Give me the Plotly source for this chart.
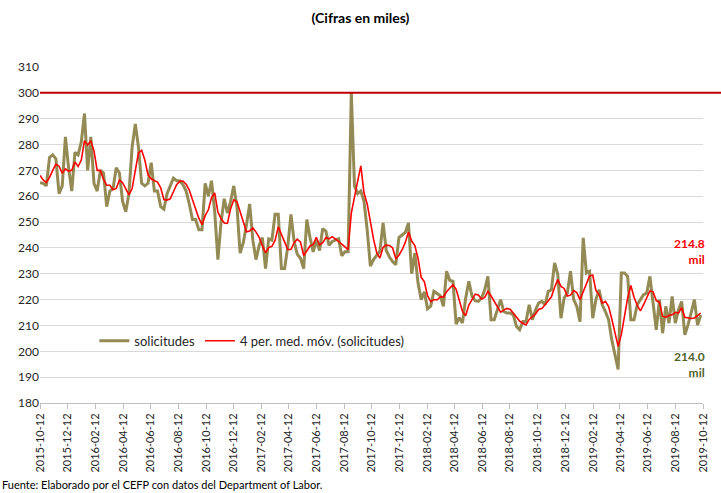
import pandas as pd
import plotly.graph_objects as go

# ---------------- data (miles de solicitudes, semanal) ----------------
start_date = "2015-10-12"

solicitudes = [
    265.2, 265, 264, 275, 276, 274.5, 261, 264, 283, 271,
    262, 277, 276, 281, 292, 270, 283, 265, 262, 270,
    269, 256, 262, 263, 271, 269, 258, 254, 261, 279,
    288, 279, 265, 264, 265, 273, 262, 262, 256, 255,
    261, 264, 267, 266, 266, 264.5, 262, 257, 251, 251,
    247, 247, 265, 260, 266, 254, 235.5, 250, 259, 253.5,
    258, 264, 256, 238, 242, 249, 257, 243, 235.5, 241,
    244, 232, 243.5, 243, 253, 253, 232, 232, 240.5, 253,
    242.5, 237.5, 236, 232, 251, 244, 238.5, 243, 239, 247.5,
    246.5, 241, 242.5, 243, 243.5, 237, 238.5, 238.5, 300, 264,
    261, 262, 258, 247, 233, 235.5, 237, 238.7, 249.7, 239,
    236.5, 234.7, 233.5, 244, 245, 246, 249.7, 230, 238, 226.5,
    220, 223, 216.5, 217.5, 223.2, 222.2, 221.5, 217.4, 231, 227.4,
    227.1, 210.5, 213, 211, 220.5, 227.1, 221.3, 219.6, 219.3, 220.6,
    223.8, 229, 212.2, 212.2, 216.1, 220, 215.4, 214.8, 214.8, 214.1,
    209.6, 208.3, 211.5, 211.5, 218, 212.2, 216.1, 218.7, 219.3, 218,
    223.2, 223.8, 234.2, 229.7, 212.8, 220.6, 222.5, 231, 220, 217.4,
    211.5, 243.9, 230.3, 231, 212.8, 220, 223.8, 218, 215.4, 212.2,
    204.4, 198, 193, 230.3, 230.3, 229, 212.2, 212.2, 218, 220,
    221.9, 222.5, 229, 218.7, 208.3, 220, 207, 217.4, 210.9, 221.2,
    210.9, 216.1, 219.3, 206.4, 210.2, 215, 220, 210.2, 214,
]

# three weeks before the window (needed for the 4-week moving average)
prev_weeks = [272, 268, 267]

tick_labels = [
    "2015-10-12", "2015-12-12", "2016-02-12", "2016-04-12", "2016-06-12",
    "2016-08-12", "2016-10-12", "2016-12-12", "2017-02-12", "2017-04-12",
    "2017-06-12", "2017-08-12", "2017-10-12", "2017-12-12", "2018-02-12",
    "2018-04-12", "2018-06-12", "2018-08-12", "2018-10-12", "2018-12-12",
    "2019-02-12", "2019-04-12", "2019-06-12", "2019-08-12", "2019-10-12",
]

umbral = 300
last_ma_label = "214.8"
last_value_label = "214.0"

# ---------------- derived ----------------
fechas = pd.date_range(start_date, periods=len(solicitudes), freq="7D")
media_movil = (
    pd.Series(prev_weeks + solicitudes).rolling(4).mean().iloc[len(prev_weeks):].tolist()
)

OLIVE = "#948A54"
RED = "#FF0000"
DARKRED = "#C00000"
FONT = "Lato"

fig = go.Figure()
fig.add_trace(go.Scatter(
    x=fechas, y=solicitudes, mode="lines", name="solicitudes",
    line=dict(color=OLIVE, width=3),
))
fig.add_trace(go.Scatter(
    x=fechas, y=media_movil, mode="lines", name="4 per. med. móv. (solicitudes)",
    line=dict(color=RED, width=1.6),
))

fig.add_shape(
    type="line", xref="paper", yref="y", x0=0, x1=1.03, y0=umbral, y1=umbral,
    line=dict(color=DARKRED, width=2), layer="above",
)

fig.add_annotation(
    xref="paper", yref="y", x=1.006, y=238.5, xanchor="right", yanchor="middle",
    text=f"<b>{last_ma_label}</b><br><b>mil</b>", showarrow=False, align="right",
    font=dict(family=FONT, size=12, color=RED),
)
fig.add_annotation(
    xref="paper", yref="y", x=1.006, y=195, xanchor="right", yanchor="middle",
    text=f"<b>{last_value_label}</b><br><b>mil</b>", showarrow=False, align="right",
    font=dict(family=FONT, size=12, color="#4F6228"),
)
fig.add_annotation(
    xref="paper", yref="paper", x=-0.06, y=-0.244, xanchor="left", yanchor="middle",
    text="Fuente: Elaborado por el CEFP con datos del Department of Labor.",
    showarrow=False, font=dict(family=FONT, size=11, color="#000000"),
)

fig.update_layout(
    width=721, height=493,
    margin=dict(l=40, r=16, t=67, b=90),
    paper_bgcolor="white", plot_bgcolor="white",
    font=dict(family=FONT, color="#262626"),
    title=dict(
        text="<b>(Cifras en miles)</b>", x=0.5, xanchor="center",
        y=1 - 18 / 493, yanchor="middle", font=dict(family=FONT, size=14, color="#000000"),
    ),
    showlegend=True,
    legend=dict(
        orientation="h", x=0.082, y=0.185, xanchor="left", yanchor="middle",
        bgcolor="rgba(0,0,0,0)", font=dict(family=FONT, size=13, color="#262626"),
        itemwidth=30,
    ),
)

fig.update_xaxes(
    type="date", range=[tick_labels[0], tick_labels[-1]],
    tickvals=tick_labels, ticktext=tick_labels, tickangle=-90,
    tickfont=dict(family=FONT, size=11, color="#262626"),
    showgrid=False, showline=True, linecolor="#BFBFBF", linewidth=1,
    ticks="outside", ticklen=5, tickcolor="#BFBFBF", zeroline=False,
)
fig.update_yaxes(
    range=[180, 310], dtick=10, tick0=180,
    showgrid=True, gridcolor="#D9D9D9", gridwidth=1,
    showline=False, zeroline=False, ticks="",
    tickfont=dict(family=FONT, size=12, color="#262626"),
)

fig.write_html(
    "out.html",
    config={"displayModeBar": False},
    post_script="document.body.style.margin='0';document.body.style.padding='0';",
)
